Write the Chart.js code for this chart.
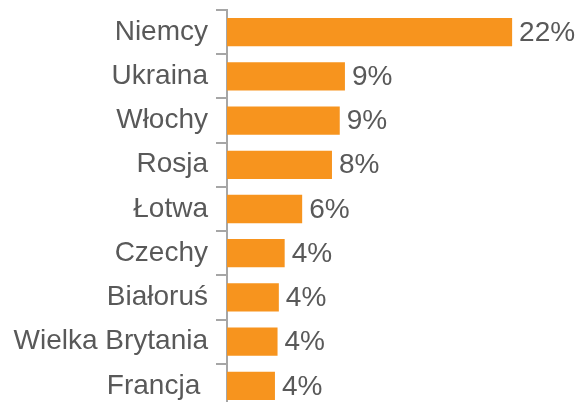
<!DOCTYPE html>
<html>
<head>
<meta charset="utf-8">
<script src="https://cdn.jsdelivr.net/npm/chart.js@4/dist/chart.umd.min.js"></script>
<style>
  html, body { margin: 0; padding: 0; background: #fff; overflow: hidden; }
</style>
</head>
<body>
<canvas id="chart" width="582" height="410"></canvas>
<script>
// data
const countries = ['Niemcy', 'Ukraina', 'Włochy', 'Rosja', 'Łotwa', 'Czechy', 'Białoruś', 'Wielka Brytania', 'Francja '];
const shares = [22.0, 9.1, 8.7, 8.1, 5.8, 4.45, 4.0, 3.9, 3.7];

const textColor = '#595959';
const axisColor = '#a6a6a6';
const fontFamily = '"Liberation Sans", Arial, sans-serif';

// draws the "22%" style labels after the bars
const valueLabels = {
    id: 'valueLabels',
    afterDatasetsDraw(chart) {
        const ctx = chart.ctx;
        const meta = chart.getDatasetMeta(0);
        ctx.save();
        ctx.font = '28px ' + fontFamily;
        ctx.fillStyle = textColor;
        ctx.textAlign = 'left';
        ctx.textBaseline = 'middle';
        meta.data.forEach((bar, i) => {
            ctx.fillText(Math.round(shares[i]) + '%', bar.x + 7, bar.y + 1);
        });
        ctx.restore();
    }
};

new Chart(document.getElementById('chart').getContext('2d'), {
    type: 'bar',
    data: {
        labels: countries,
        datasets: [{
            data: shares,
            backgroundColor: '#F7941E',
            borderWidth: 0,
            categoryPercentage: 1,
            barPercentage: 0.64
        }]
    },
    options: {
        indexAxis: 'y',
        responsive: false,
        animation: false,
        layout: { padding: { top: 10, bottom: 2, left: 0, right: 31 } },
        plugins: {
            legend: { display: false },
            tooltip: { enabled: false }
        },
        scales: {
            x: { display: false, min: 0, max: 25 },
            y: {
                afterFit(scale) {
                    scale.width = 227;
                    scale.paddingTop = 0;
                    scale.paddingBottom = 0;
                },
                border: { display: true, color: axisColor, width: 2 },
                grid: {
                    drawOnChartArea: false,
                    drawTicks: true,
                    tickLength: 11,
                    color: axisColor,
                    lineWidth: 2
                },
                ticks: {
                    padding: 8,
                    color: textColor,
                    font: { family: fontFamily, size: 28 }
                }
            }
        }
    },
    plugins: [valueLabels]
});
</script>
</body>
</html>
